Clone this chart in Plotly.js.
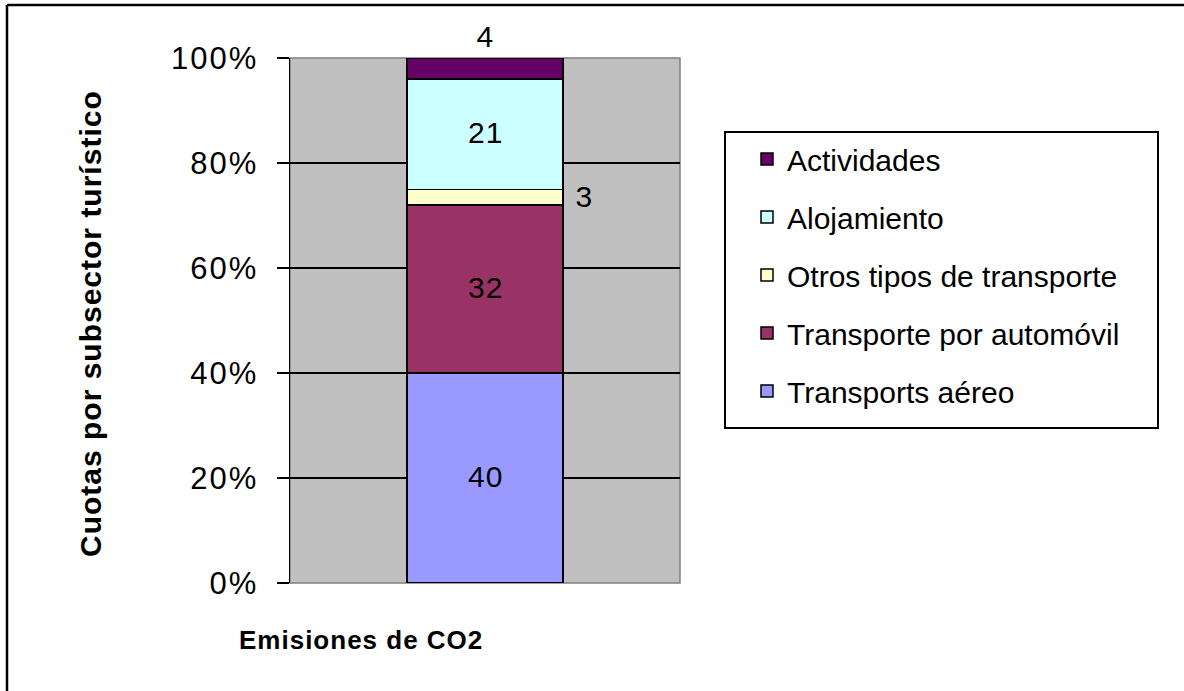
<!DOCTYPE html>
<html><head><meta charset="utf-8">
<script src="https://cdn.plot.ly/plotly-3.0.1.min.js"></script>
<style>
html,body{margin:0;padding:0;background:#fff;overflow:hidden}
#chart .ytick text{letter-spacing:2px}
#chart .annotation-text{letter-spacing:1px}
</style>
</head><body><div id="chart" style="width:1184px;height:691px"></div>
<script>
// ---- data ----
const categories = ["Emisiones de CO2"];
const seriesNames = ["Transports aéreo", "Transporte por automóvil", "Otros tipos de transporte", "Alojamiento", "Actividades"];
const seriesValues = [40, 32, 3, 21, 4];
const seriesColors = ["#9999FF", "#993366", "#FFFFCC", "#CCFFFF", "#660066"];
const yTickVals = [0, 20, 40, 60, 80, 100];
const yTickText = ["0%", "20%", "40%", "60%", "80%", "100%"];
const xAxisTitle = "Emisiones de CO2";
const yAxisTitle = "Cuotas por subsector turístico";

// ---- layout geometry helpers (pixel -> paper) ----
const W = 1184, H = 691, ML = 290, MR = 504, MT = 58, MB = 108;
const PW = W - ML - MR, PH = H - MT - MB;
const px = v => (v - ML) / PW;
const py = v => (H - MB - v) / PH;
const FONT = "Liberation Sans, Arial, sans-serif";
const barWidth = 0.4;

const traces = seriesNames.map((name, i) => ({
  type: "bar",
  name: name,
  legendgroup: "g" + i,
  legendrank: 1000 - i,
  x: categories,
  y: [seriesValues[i]],
  width: barWidth,
  marker: { color: seriesColors[i], line: { color: "#000000", width: 1.5 } },
  hoverinfo: "skip"
}));

// value labels
const annotations = [];
let base = 0;
const lblFont = { family: FONT, size: 30, color: "#000" };
seriesValues.forEach((v, i) => {
  const mid = base + v / 2;
  const top = base + v;
  if (v >= 10) {
    annotations.push({ xref: "x", yref: "y", x: 0, y: mid, text: String(v), showarrow: false,
      font: lblFont, xanchor: "center", yanchor: "middle", yshift: 2 });
  } else if (i === seriesValues.length - 1) {
    annotations.push({ xref: "x", yref: "y", x: 0, y: top, text: String(v), showarrow: false,
      font: lblFont, xanchor: "center", yanchor: "bottom", yshift: 3 });
  } else {
    annotations.push({ xref: "x", yref: "y", x: barWidth / 2, y: mid, text: String(v), showarrow: false,
      font: lblFont, xanchor: "left", yanchor: "middle", xshift: 11, yshift: 1 });
  }
  base = top;
});
// axis titles
annotations.push({ xref: "paper", yref: "paper", x: px(361), y: py(640), text: "<b>" + xAxisTitle + "</b>",
  showarrow: false, font: { family: FONT, size: 26, color: "#000" }, xanchor: "center", yanchor: "middle" });
annotations.push({ xref: "paper", yref: "paper", x: px(91), y: py(324), text: "<b>" + yAxisTitle + "</b>",
  showarrow: false, textangle: -90, font: { family: FONT, size: 30, color: "#000" }, xanchor: "center", yanchor: "middle" });

const shapes = [
  // plot area border (gray)
  { type: "rect", xref: "paper", yref: "paper", x0: 0, x1: 1, y0: 0, y1: 1, layer: "below",
    line: { color: "#808080", width: 1.5 } },
  // legend frame
  { type: "rect", xref: "paper", yref: "paper", x0: px(725), x1: px(1158), y0: py(428), y1: py(132),
    line: { color: "#000", width: 2 }, fillcolor: "rgba(0,0,0,0)" },
  // outer chart frame (top & left visible)
  { type: "line", xref: "paper", yref: "paper", x0: px(7), x1: px(1190), y0: py(5), y1: py(5),
    line: { color: "#000", width: 2.5 } },
  { type: "line", xref: "paper", yref: "paper", x0: px(7), x1: px(7), y0: py(5), y1: py(700),
    line: { color: "#000", width: 2.5 } }
];

const layout = {
  width: W, height: H,
  margin: { l: ML, r: MR, t: MT, b: MB, pad: 0 },
  paper_bgcolor: "#FFFFFF",
  plot_bgcolor: "#C0C0C0",
  barmode: "stack",
  showlegend: true,
  font: { family: FONT, size: 30, color: "#000" },
  legend: {
    x: px(747), y: py(133), xanchor: "left", yanchor: "top",
    traceorder: "grouped", tracegroupgap: 16,
    bgcolor: "rgba(0,0,0,0)", borderwidth: 0,
    font: { family: FONT, size: 30, color: "#000" }
  },
  xaxis: {
    type: "category", range: [-0.5, 0.5], showticklabels: false, ticks: "",
    showline: false, showgrid: false, zeroline: false, fixedrange: true
  },
  yaxis: {
    range: [0, 100], tickvals: yTickVals, ticktext: yTickText,
    ticks: "outside", ticklen: 12, tickwidth: 1.5, tickcolor: "#000",
    showline: true, linecolor: "#000", linewidth: 1.5,
    showgrid: true, gridcolor: "#000", gridwidth: 1.5, zeroline: false,
    ticklabelstandoff: 12,
    tickfont: { family: FONT, size: 31, color: "#000" }, fixedrange: true
  },
  annotations: annotations,
  shapes: shapes
};

Plotly.newPlot("chart", traces, layout, { staticPlot: true, displayModeBar: false });
</script>
</body></html>
